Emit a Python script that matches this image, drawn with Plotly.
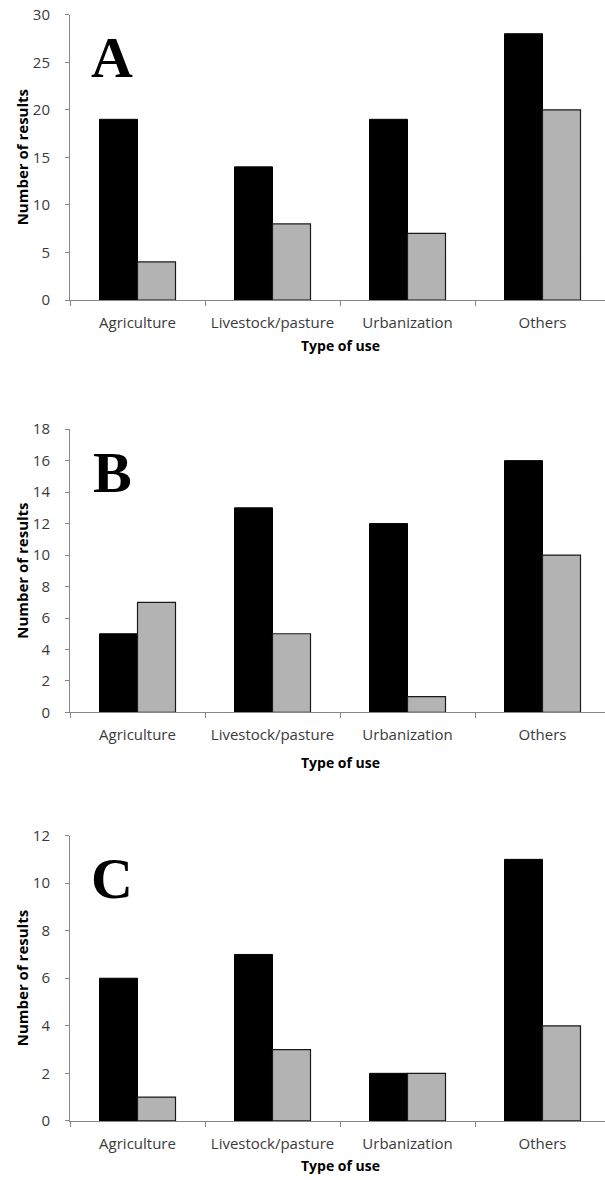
import plotly.graph_objects as go

categories = ["Agriculture", "Livestock/pasture", "Urbanization", "Others"]
panel_letters = ["A", "B", "C"]
black_A = [19, 14, 19, 28]
gray_A = [4, 8, 7, 20]
black_B = [5, 13, 12, 16]
gray_B = [7, 5, 1, 10]
black_C = [6, 7, 2, 11]
gray_C = [1, 3, 2, 4]
y_max = [30, 18, 12]
y_dtick = [5, 2, 2]

W, H = 605, 1180
# target pixel layout (top, bottom) of each plot area, as seen in the picture
panels_px = [(15, 300), (429, 712), (835, 1120)]
xtitle_gap = [45, 50, 45]
x_left = 70


def vy(px):
    # compensate the observed vertical offset/scale of the photographed page
    return (px - 11.3) / 0.982


fig = go.Figure()
blacks = [black_A, black_B, black_C]
grays = [gray_A, gray_B, gray_C]
axis_color = "#868686"
tick_font = dict(family="Open Sans", size=15, color="#3a3a3a")

for i in range(3):
    xa = "x" if i == 0 else f"x{i+1}"
    ya = "y" if i == 0 else f"y{i+1}"
    fig.add_trace(go.Bar(x=categories, y=blacks[i], xaxis=xa, yaxis=ya,
                         marker=dict(color="#000000", line=dict(color="#000000", width=1)),
                         showlegend=False))
    fig.add_trace(go.Bar(x=categories, y=grays[i], xaxis=xa, yaxis=ya,
                         marker=dict(color="#b3b3b3", line=dict(color="#1a1a1a", width=1.2)),
                         showlegend=False))
    top, bot = panels_px[i]
    dom = [1 - vy(bot) / H, 1 - vy(top) / H]
    xkey = "xaxis" if i == 0 else f"xaxis{i+1}"
    ykey = "yaxis" if i == 0 else f"yaxis{i+1}"
    fig.update_layout({
        xkey: dict(domain=[x_left / W, 1], anchor=ya, type="category",
                   range=[-0.5, -0.5 + (W - x_left) / 135.0],
                   showline=True, linecolor=axis_color, linewidth=1,
                   ticks="outside", tickson="boundaries", ticklen=5, tickcolor=axis_color,
                   ticklabelstandoff=9,
                   tickfont=tick_font, showgrid=False, zeroline=False),
        ykey: dict(domain=dom, anchor=xa, range=[0, y_max[i]], dtick=y_dtick[i],
                   showline=True, linecolor=axis_color, linewidth=1,
                   ticks="outside", ticklen=4, tickcolor=axis_color,
                   ticklabelstandoff=12,
                   tickfont=tick_font, showgrid=False, zeroline=False),
    })
    # panel letter
    fig.add_annotation(x=112 / W, y=1 - vy(top + 43) / H, xref="paper", yref="paper",
                       text=f"<b>{panel_letters[i]}</b>", showarrow=False,
                       font=dict(family="Liberation Serif", size=58, color="#000000"),
                       xanchor="center", yanchor="middle")
    # y title
    fig.add_annotation(x=22 / W, y=1 - vy((top + bot) / 2) / H, xref="paper", yref="paper",
                       text="<b>Number of results</b>", showarrow=False, textangle=-90,
                       font=dict(family="Open Sans", size=15, color="#000000"),
                       xanchor="center", yanchor="middle")
    # x title
    fig.add_annotation(x=340 / W, y=1 - vy(bot + xtitle_gap[i]) / H, xref="paper", yref="paper",
                       text="<b>Type of use</b>", showarrow=False,
                       font=dict(family="Open Sans", size=14, color="#000000"),
                       xanchor="center", yanchor="middle")

fig.update_layout(width=W, height=H, margin=dict(l=0, r=0, t=0, b=0),
                  paper_bgcolor="white", plot_bgcolor="white",
                  barmode="group", bargap=0.437, bargroupgap=0)

fig.write_html("out.html", config={"displayModeBar": False},
               post_script="document.body.style.margin='0';")
